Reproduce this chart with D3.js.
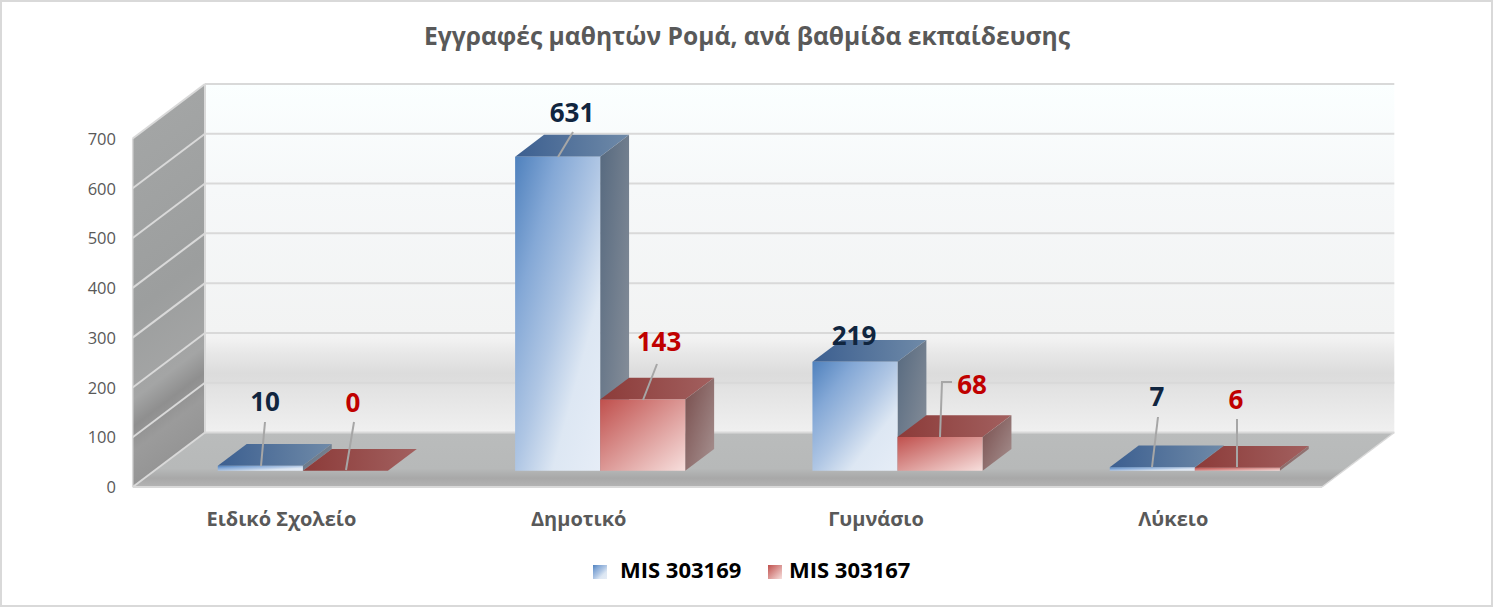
<!DOCTYPE html>
<html lang="el"><head><meta charset="utf-8">
<script src="https://cdnjs.cloudflare.com/ajax/libs/d3/7.8.5/d3.min.js"></script>
<style>html,body{margin:0;padding:0;background:#fff}svg{display:block}text{font-family:"Open Sans",sans-serif}</style>
</head><body><svg id="c" width="1493" height="607"></svg>
<script>
const categories = ["Ειδικό Σχολείο","Δημοτικό","Γυμνάσιο","Λύκειο"];
const seriesNames = ["MIS 303169","MIS 303167"];
const seriesA = [10,631,219,7];
const seriesB = [0,143,68,6];
const tickValues = [0,100,200,300,400,500,600,700];
const title = "Εγγραφές μαθητών Ρομά, ανά βαθμίδα εκπαίδευσης";

// layout (not data)
const W=1493,H=607, backL=205, backR=1394.3, backTop=84, backBot=432.5, DX=72.3, DY=54.5;
const depthFront=.703, depthBack=.303;
// label centres and leader polylines
const labelPos=[
 [{l:[265,402],p:[[261,466],[265,422]]},{l:[353,403],p:[[346,470],[354,422]]}],
 [{l:[572,113],p:[[558,157],[573,132]]},{l:[659,342],p:[[643,400],[657,364]]}],
 [{l:[854,336],p:null},{l:[972,385],p:[[940,437],[942,382],[952,382]]}],
 [{l:[1157,397],p:[[1152,467],[1158,417]]},{l:[1236,400],p:[[1237,467],[1237,419]]}]
];
const svg=d3.select("#c");
const defs=svg.append("defs");
function grad(id,stops,x2=1,y2=1){
  const g=defs.append("linearGradient").attr("id",id).attr("x1",0).attr("y1",0).attr("x2",x2).attr("y2",y2);
  stops.forEach(s=>g.append("stop").attr("offset",s[0]).attr("stop-color",s[1]));
  return g;
}
grad("wall",[[0,"#fbffff"],[.3,"#f6f8f9"],[.712,"#f2f3f3"],[.73,"#f2f2f2"],[.77,"#e8e8e8"],[.83,"#dcdcdc"],[.857,"#dedede"],[.87,"#e2e2e2"],[1,"#f0f0f0"]],0,1);
grad("side",[[0,"#a3a5a5"],[.5,"#9c9e9e"],[.75,"#a4a5a5"],[.827,"#8f8f8f"],[.9,"#9b9b9b"],[1,"#959595"]],0,1)
  .attr("gradientUnits","userSpaceOnUse").attr("x1",0).attr("y1",0).attr("x2",0).attr("y2",348.5)
  .attr("gradientTransform",`translate(${backL},${backTop}) skewY(-37)`);
grad("floor",[[0,"#babcbc"],[.66,"#b7b9b9"],[.84,"#a8a8a8"],[1,"#b4b4b4"]],0,1);
const blueFront=[[0,"#4f81bd"],[.25,"#84a8d6"],[.5,"#afc6e4"],[.72,"#dde7f3"],[1,"#e6edf7"]];
grad("bf",blueFront);
grad("bs",[[0,"#56697f"],[1,"#8b929c"]]);
grad("bt",[[0,"#3c5f90"],[1,"#6f8aa8"]],1,0);
grad("rf",[[0,"#c0504d"],[1,"#f7dfdd"]]);
grad("rs",[[0,"#774c4b"],[1,"#a89392"]]);
grad("rt",[[0,"#8c3b39"],[1,"#a2605f"]],1,0);

const xBack=d3.scaleBand().domain(categories).range([backL,backR]);
const xInner=d3.scaleBand().domain(seriesNames).range([0,xBack.bandwidth()]).paddingInner(0).paddingOuter(.748);
const yBack=d3.scaleLinear().domain([0,700]).range([backBot,backTop]);
const P=(x,v,d)=>[x-DX*d,yBack(v)+DY*d];
const poly=a=>a.map(p=>p.join(",")).join(" ");

// chart frame
svg.append("rect").attr("x",1).attr("y",1).attr("width",W-2).attr("height",H-2).attr("fill","#fff").attr("stroke","#d9d9d9").attr("stroke-width",2);
// walls
svg.append("rect").attr("x",backL).attr("y",backTop).attr("width",backR-backL).attr("height",backBot-backTop).attr("fill","url(#wall)");
svg.append("polygon").attr("points",poly([P(backL,700,0),P(backL,700,1),P(backL,0,1),P(backL,0,0)])).attr("fill","url(#side)");
svg.append("polygon").attr("points",poly([P(backL,0,0),P(backR,0,0),P(backR,0,1),P(backL,0,1)])).attr("fill","url(#floor)");
// grid
svg.append("g").selectAll("line").data(tickValues).join("line")
 .attr("x1",backL).attr("x2",backR).attr("y1",d=>yBack(d)).attr("y2",d=>yBack(d)).attr("stroke","#d9d9d9").attr("stroke-width",2);
svg.append("g").selectAll("line").data(tickValues).join("line")
 .attr("x1",backL).attr("x2",backL-DX).attr("y1",d=>yBack(d)).attr("y2",d=>yBack(d)+DY).attr("stroke","#d9d9d9").attr("stroke-width",2);
svg.append("line").attr("x1",backL).attr("x2",backL).attr("y1",backTop).attr("y2",backBot).attr("stroke","#d9d9d9").attr("stroke-width",2);
svg.append("line").attr("x1",backL-DX).attr("x2",backL-DX).attr("y1",backTop+DY).attr("y2",backBot+DY).attr("stroke","#d9d9d9").attr("stroke-width",1.5);
svg.append("line").attr("x1",backL-DX).attr("x2",backR-DX).attr("y1",backBot+DY).attr("y2",backBot+DY).attr("stroke","#d9d9d9").attr("stroke-width",2);
svg.append("line").attr("x1",backR).attr("x2",backR-DX).attr("y1",backBot).attr("y2",backBot+DY).attr("stroke","#d9d9d9").attr("stroke-width",1.5);

// bars
const rows=categories.flatMap((c,i)=>[
 {c,i,j:0,s:seriesNames[0],v:seriesA[i],pre:"b"},
 {c,i,j:1,s:seriesNames[1],v:seriesB[i],pre:"r"}]);
const bw=xInner.bandwidth();
const bars=svg.append("g").selectAll("g").data(rows).join("g");
bars.append("polygon").attr("fill",d=>`url(#${d.pre}t)`).attr("points",d=>{
  const x=xBack(d.c)+xInner(d.s);
  return poly([P(x,d.v,depthFront),P(x+bw,d.v,depthFront),P(x+bw,d.v,depthBack),P(x,d.v,depthBack)]);});
bars.filter(d=>d.v>0).append("polygon").attr("fill",d=>`url(#${d.pre}s)`).attr("points",d=>{
  const x=xBack(d.c)+xInner(d.s)+bw;
  return poly([P(x,d.v,depthFront),P(x,d.v,depthBack),P(x,0,depthBack),P(x,0,depthFront)]);});
bars.filter(d=>d.v>0).append("polygon").attr("fill",d=>`url(#${d.pre}f)`).attr("points",d=>{
  const x=xBack(d.c)+xInner(d.s);
  return poly([P(x,d.v,depthFront),P(x+bw,d.v,depthFront),P(x+bw,0,depthFront),P(x,0,depthFront)]);});

// leaders + labels
const line=d3.line();
svg.append("g").selectAll("path").data(rows.filter(d=>labelPos[d.i][d.j].p)).join("path")
 .attr("d",d=>line(labelPos[d.i][d.j].p)).attr("fill","none").attr("stroke","#a6a6a6").attr("stroke-width",2);
svg.append("g").selectAll("text").data(rows).join("text")
 .attr("x",d=>labelPos[d.i][d.j].l[0]).attr("y",d=>labelPos[d.i][d.j].l[1]).attr("dy",".36em")
 .attr("text-anchor","middle").attr("font-size",26).attr("font-weight",700)
 .attr("fill",d=>d.j?"#c00000":"#10253f").text(d=>d.v);

// axes
const yAxis=svg.append("g").attr("transform",`translate(116,${DY+0.5})`)
 .call(d3.axisLeft(yBack).tickValues(tickValues).tickSize(0).tickPadding(0));
yAxis.select(".domain").remove();
yAxis.selectAll("text").attr("font-size",16.5).attr("fill","#595959").style("font-family",'"Open Sans",sans-serif');
const xFront=d3.scaleBand().domain(categories).range([backL-DX,backR-DX]);
const xAxis=svg.append("g").attr("transform","translate(0,512)")
 .call(d3.axisBottom(xFront).tickSize(0).tickPadding(0));
xAxis.select(".domain").remove();
xAxis.selectAll("text").attr("font-size",20).attr("font-weight",700).attr("fill","#595959").style("font-family",'"Open Sans",sans-serif');

// title
svg.append("text").attr("x",747).attr("y",45).attr("text-anchor","middle").attr("font-size",24.6).attr("font-weight",700).attr("fill","#595959").text(title);

// legend
const legendX=[[593,620],[768,789]];
const leg=svg.append("g").selectAll("g").data(seriesNames).join("g");
leg.append("rect").attr("x",(d,i)=>legendX[i][0]).attr("y",565).attr("width",14).attr("height",14).attr("fill",(d,i)=>i?"url(#rf)":"url(#bf)");
leg.append("text").attr("x",(d,i)=>legendX[i][1]).attr("y",578).attr("font-size",22).attr("font-weight",700).attr("fill","#000").text(d=>d);
</script></body></html>
